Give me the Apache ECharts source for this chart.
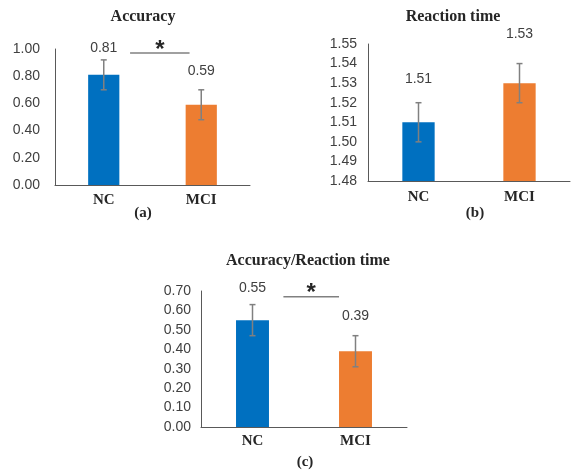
<!DOCTYPE html>
<html>
<head>
<meta charset="utf-8">
<script src="https://cdn.jsdelivr.net/npm/echarts@6/dist/echarts.min.js"></script>
<style>
  html, body { margin: 0; padding: 0; background: #fff; }
  #main { width: 571px; height: 472px; }
</style>
</head>
<body>
<div id="main"></div>
<script>
// values
const categories = ['NC', 'MCI'];
const accuracy = [0.81, 0.59];
const accuracyErr = [0.11, 0.11];
const reaction = [1.51, 1.53];
const reactionErr = [0.01, 0.01];
const ratio = [0.55, 0.39];
const ratioErr = [0.08, 0.08];
const accSig = 0.97;   // height of significance bar, panel (a)
const ratioSig = 0.67; // panel (c)

const barColors = ['#0070C0', '#ED7D31'];
const axisColor = '#595959';
const serif = '"Liberation Serif", "Times New Roman", serif';
const sans = '"Liberation Sans", Arial, sans-serif';

const chart = echarts.init(document.getElementById('main'), null, { renderer: 'canvas' });

function errorBars(gaps) {
  return function (params, api) {
    const x = api.value(0), v = api.value(1), e = api.value(2);
    const top = api.coord([x, v + e]);
    const bot = api.coord([x, v - e]);
    const cap = 3;
    const st = { stroke: '#808080', lineWidth: 1.5 };
    return {
      type: 'group',
      children: [
        { type: 'line', shape: { x1: top[0], y1: top[1], x2: bot[0], y2: bot[1] }, style: st },
        { type: 'line', shape: { x1: top[0] - cap, y1: top[1], x2: top[0] + cap, y2: top[1] }, style: st },
        { type: 'line', shape: { x1: bot[0] - cap, y1: bot[1], x2: bot[0] + cap, y2: bot[1] }, style: st },
        {
          type: 'text', x: top[0], y: top[1] - gaps[params.dataIndex],
          style: { text: v.toFixed(2), align: 'center', verticalAlign: 'middle', font: '14px ' + sans, fill: '#404040' }
        }
      ]
    };
  };
}

function sigBar(from, to) {
  return function (params, api) {
    const v = api.value(0);
    const a = api.coord([0, v]), b = api.coord([1, v]);
    const x1 = a[0] + (b[0] - a[0]) * from;
    const x2 = a[0] + (b[0] - a[0]) * to;
    return {
      type: 'group',
      children: [
        { type: 'line', shape: { x1: x1, y1: a[1], x2: x2, y2: a[1] }, style: { stroke: '#808080', lineWidth: 1.5 } },
        {
          type: 'text', x: (x1 + x2) / 2, y: a[1] - 3,
          style: { text: '*', align: 'center', verticalAlign: 'middle', font: 'bold 24px ' + sans, fill: '#262626' }
        }
      ]
    };
  };
}

function xAx(idx, margin) {
  return {
    type: 'category', gridIndex: idx, data: categories,
    axisLine: { lineStyle: { color: axisColor, width: 1 } },
    axisTick: { show: false },
    axisLabel: { margin: margin, color: '#262626', fontFamily: serif, fontWeight: 'bold', fontSize: 15 }
  };
}

function yAx(idx, min, max, interval, margin) {
  return {
    type: 'value', gridIndex: idx, min: min, max: max, interval: interval,
    axisLine: { show: true, lineStyle: { color: axisColor, width: 1 } },
    axisTick: { show: false },
    splitLine: { show: false },
    axisLabel: { margin: margin, color: '#404040', fontFamily: sans, fontSize: 14, formatter: v => v.toFixed(2) }
  };
}

function bars(idx, values) {
  return {
    type: 'bar', xAxisIndex: idx, yAxisIndex: idx, barWidth: '32%',
    data: values.map((v, i) => ({ value: v, itemStyle: { color: barColors[i] } }))
  };
}

function errs(idx, values, errors, gaps) {
  return {
    type: 'custom', xAxisIndex: idx, yAxisIndex: idx, z: 5,
    renderItem: errorBars(gaps),
    encode: { x: 0, y: 1 },
    data: values.map((v, i) => [i, v, errors[i]])
  };
}

function txt(x, y, text, size) {
  return {
    type: 'text', x: x, y: y,
    style: { text: text, align: 'center', verticalAlign: 'middle', font: 'bold ' + size + 'px ' + serif, fill: '#262626' }
  };
}

chart.setOption({
  animation: false,
  backgroundColor: '#fff',
  grid: [
    { left: 55, top: 49, width: 195, height: 136 },
    { left: 368, top: 44, width: 202, height: 137 },
    { left: 201, top: 291, width: 206, height: 136 }
  ],
  xAxis: [xAx(0, 8), xAx(1, 9), xAx(2, 7)],
  yAxis: [
    yAx(0, 0, 1, 0.2, 15),
    yAx(1, 1.48, 1.55, 0.01, 11),
    yAx(2, 0, 0.7, 0.1, 10)
  ],
  graphic: [
    txt(143, 17, 'Accuracy', 16),
    txt(143, 213, '(a)', 15),
    txt(453, 17, 'Reaction time', 16),
    txt(475, 213, '(b)', 15),
    txt(308, 261, 'Accuracy/Reaction time', 16),
    txt(305, 462, '(c)', 15)
  ],
  series: [
    bars(0, accuracy),
    errs(0, accuracy, accuracyErr, [12, 19]),
    { type: 'custom', xAxisIndex: 0, yAxisIndex: 0, z: 5, renderItem: sigBar(0.27, 0.88), encode: { y: 0 }, data: [[accSig]] },
    bars(1, reaction),
    errs(1, reaction, reactionErr, [24, 29]),
    bars(2, ratio),
    errs(2, ratio, ratioErr, [16, 20]),
    { type: 'custom', xAxisIndex: 2, yAxisIndex: 2, z: 5, renderItem: sigBar(0.30, 0.84), encode: { y: 0 }, data: [[ratioSig]] }
  ]
});
</script>
</body>
</html>
